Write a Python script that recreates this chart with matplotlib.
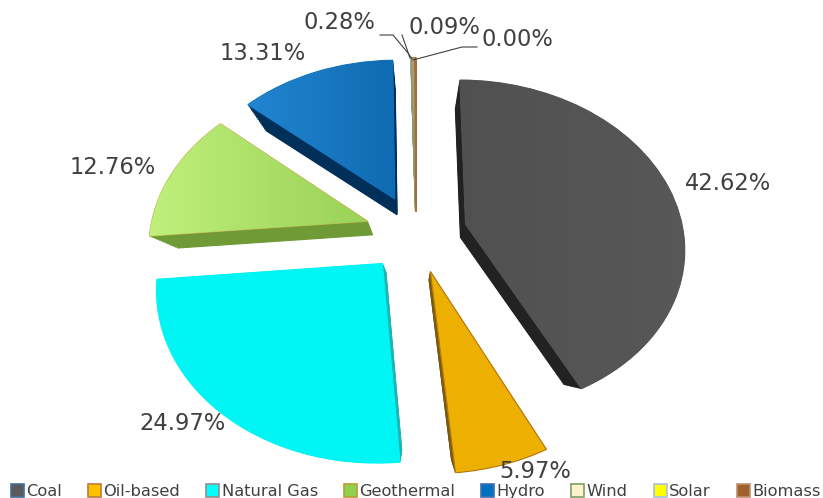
import numpy as np
import matplotlib
matplotlib.use("Agg")
import matplotlib.pyplot as plt
from matplotlib.patches import Patch
from matplotlib.transforms import Transform

LABELS = ["Coal", "Oil-based", "Natural Gas", "Geothermal", "Hydro", "Wind", "Solar", "Biomass"]
VALUES = [42.62, 5.97, 24.97, 12.76, 13.31, 0.28, 0.09, 0.00]
EXPLODE = [0.235] * 8
FACE = ["#555555", "#EDB000", "#00F5F5", "#A8DC62", "#1474BE", "#A8A070", "#B87A48", "#A86A3A"]
SIDE = ["#222222", "#7A5A10", "#1FB5B5", "#6F9A36", "#00305A", "#8A9A70", "#A86A3A", "#A86A3A"]
EDGE = ["#555555", "#B87A10", "#00F5F5", "#C8B050", "#1474BE", "#8A9A70", "#A86A3A", "#A86A3A"]
LEG_FACE = ["#5A5A5A", "#FFC000", "#00FFFF", "#92D050", "#0070C0", "#FFF2CC", "#FFFF00", "#A0622D"]
LEG_EDGE = ["#44709A", "#C07840", "#909090", "#B8A030", "#4070B0", "#80A060", "#A8C0E0", "#C09070"]
GRAD = {0: ("#505050", "#585858"), 3: ("#C2F27E", "#98D055"), 4: ("#2488D4", "#0E6AB0")}
PCT_POS = [(728, 183, "42.62%"), (535, 471, "5.97%"), (183, 423, "24.97%"), (113, 167, "12.76%"),
           (263, 53, "13.31%"), (339, 22, "0.28%"), (444, 27, "0.09%"), (517, 39, "0.00%")]

CENTER = (416, 233)
VANISH = (417, 350)
DEPTH = 0.105


class Persp(Transform):
    # unit pie disc -> pixel coords, tilted, scaled `d` toward the vanishing point
    input_dims = output_dims = 2

    def __init__(self, d=0.0, k=0.13, a=218, b=165):
        super().__init__()
        self.d, self.k, self.a, self.b = d, k, a, b

    def transform_non_affine(self, xy):
        xy = np.asarray(xy, float)
        s = 1 / (1 + self.k * xy[:, 1])
        px = CENTER[0] + self.a * s * xy[:, 0]
        py = CENTER[1] - self.b * s * xy[:, 1]
        px = px + (VANISH[0] - px) * self.d
        py = py + (VANISH[1] - py) * self.d
        return np.column_stack([px, py])


def draw_pie(ax, d, colors, edges, lw):
    wedges, _ = ax.pie(VALUES, explode=EXPLODE, startangle=90, counterclock=False, colors=colors,
                       wedgeprops={"linewidth": lw})
    for w, e in zip(wedges, edges):
        w.set_edgecolor(e)
        w.set_transform(Persp(d) + ax.transData)
    return wedges


fig = plt.figure(figsize=(8.23, 4.98), dpi=100)
ax = fig.add_axes([0, 0, 1, 1])

# extruded sides: stack of dark copies, back to front
for d in np.linspace(DEPTH, 0.005, 14):
    draw_pie(ax, d, SIDE, SIDE, 0.8)
faces = draw_pie(ax, 0.0, FACE, EDGE, 0.8)

for i, (c0, c1) in GRAD.items():
    cmap = matplotlib.colors.LinearSegmentedColormap.from_list("g%d" % i, [c0, c1])
    x0, x1 = {0: (440, 700), 3: (130, 380), 4: (230, 405)}[i]
    im = ax.imshow(np.linspace(0, 1, 64)[None, :], extent=(x0, x1, 498, 0), cmap=cmap, aspect="auto", zorder=1.5)
    im.set_clip_path(faces[i])

ax.set_aspect("auto")
ax.set_xlim(0, 823)
ax.set_ylim(498, 0)
ax.axis("off")

for x, y, s in PCT_POS:
    ax.text(x, y, s, ha="center", va="center", fontsize=16.3, color="#404040", zorder=5)

# leader lines of the three tiny slices
ax.plot([380, 393, 408, 412], [35, 35, 53, 59], color="#404040", lw=0.8, zorder=4)
ax.plot([402, 410], [35, 58], color="#404040", lw=0.8, zorder=4)
ax.plot([477, 462, 413], [47, 47, 60], color="#404040", lw=0.8, zorder=4)

handles = [Patch(facecolor=f, edgecolor=e, linewidth=1.2, label=l) for f, e, l in zip(LEG_FACE, LEG_EDGE, LABELS)]
fig.legend(handles=handles, ncol=8, loc="center", bbox_to_anchor=(0.505, 0.013), frameon=False, fontsize=11.7,
           handlelength=0.8, handleheight=0.9, handletextpad=0.15, columnspacing=1.6, labelcolor="#404040",
           borderpad=0, borderaxespad=0)

fig.savefig("out.png", dpi=100)
